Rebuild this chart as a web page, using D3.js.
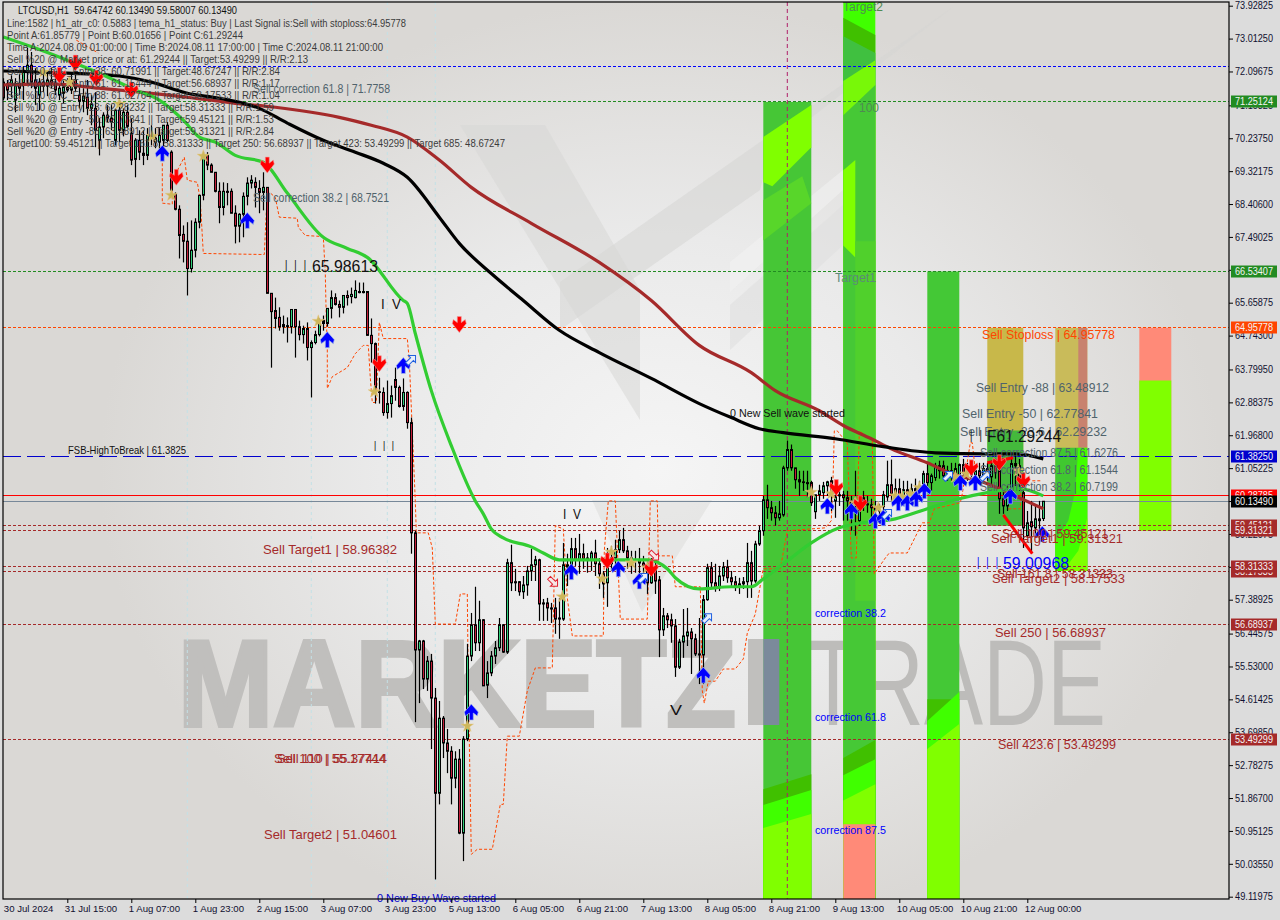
<!DOCTYPE html>
<html><head><meta charset="utf-8">
<script src="https://cdn.jsdelivr.net/npm/d3@7/dist/d3.min.js"></script>
<style>html,body{margin:0;padding:0;background:#dcdcdc;overflow:hidden}svg{display:block}text{font-family:"Liberation Sans",Arial,sans-serif;white-space:pre}</style>
</head><body><svg id="c" width="1280" height="920"></svg>
<script>
// ---------- candle data (H1 bars) ----------
const opens=[71.80,71.75,71.72,71.30,71.75,71.77,72.08,72.27,71.86,71.44,
71.80,71.69,71.86,71.75,71.44,71.49,71.66,71.58,71.86,71.44,
71.27,71.38,71.07,71.07,70.18,70.55,70.88,70.80,70.18,71.02,
70.46,70.96,70.38,69.65,70.18,69.82,69.76,70.29,70.24,70.13,
70.18,70.60,69.85,68.68,68.26,67.56,67.37,66.61,67.12,67.90,
68.65,69.76,69.49,69.29,68.76,68.31,68.76,68.76,68.15,67.79,
68.12,68.62,68.99,69.01,68.84,68.73,68.87,65.92,65.44,65.25,
65.05,64.99,64.99,65.47,64.99,64.77,64.94,64.41,64.55,64.77,
65.16,65.08,65.50,65.80,65.61,65.53,65.86,65.83,65.80,65.97,
65.97,65.97,64.75,64.52,63.18,63.16,62.60,62.85,63.52,63.30,
62.77,63.16,62.32,59.25,55.99,56.24,55.18,55.68,54.65,52.00,
54.09,53.40,53.17,52.42,52.95,50.89,53.51,55.82,56.69,56.19,
56.83,55.01,55.35,55.82,56.05,56.69,55.93,58.42,57.89,57.89,
57.61,57.80,58.19,58.36,58.50,57.30,57.30,57.16,57.16,56.88,
56.85,58.36,58.33,58.81,58.50,58.67,58.55,58.50,58.69,58.39,
58.11,57.86,58.39,58.55,58.78,59.06,58.75,58.55,58.50,58.50,
58.41,58.33,57.86,58.25,57.94,56.55,56.94,56.83,56.66,55.51,
56.21,56.38,56.49,56.30,55.88,55.85,57.39,58.28,57.86,57.72,
58.05,58.30,58.00,57.89,57.75,57.83,57.89,58.42,57.91,58.94,
59.31,60.17,59.95,59.81,59.67,59.75,61.06,61.57,61.06,60.73,
60.67,60.65,60.65,59.84,60.31,60.37,60.56,60.70,60.14,60.31,
60.31,60.23,60.14,60.06,59.59,60.23,60.06,60.03,59.95,59.89,
59.98,60.25,60.59,60.34,60.48,60.28,60.45,60.34,60.48,60.42,
60.62,60.90,60.65,60.79,61.12,61.12,60.84,60.98,60.92,60.84,
61.15,60.92,61.09,60.87,60.98,60.84,61.04,60.81,61.12,60.98,
60.20,60.00,60.39,61.18,61.12,60.37,59.17,59.56,59.39,59.64,59.65];
const highs=[71.91,71.86,71.99,71.91,72.02,72.25,72.75,72.64,72.19,71.91,
72.13,72.08,72.19,71.97,71.80,71.86,71.91,72.08,72.27,71.72,
71.63,71.86,71.44,71.52,70.80,70.96,71.16,71.16,71.07,71.30,
71.07,71.16,70.80,70.24,70.46,70.46,70.52,70.60,70.52,70.52,
70.60,70.69,69.90,68.73,68.37,67.81,67.90,67.95,68.01,68.65,
69.85,69.85,69.54,69.29,69.01,69.01,68.99,68.84,68.37,68.15,
68.73,69.15,69.21,69.15,69.07,69.29,68.87,65.92,65.80,65.53,
65.30,65.25,65.47,65.47,65.16,65.02,65.11,64.61,64.88,65.22,
65.30,65.50,66.00,65.92,65.72,65.86,66.00,66.08,66.28,66.22,
66.22,65.97,65.22,64.55,63.57,63.30,63.49,63.35,63.85,63.35,
63.55,63.19,62.46,59.31,56.27,56.27,55.82,55.88,54.93,54.57,
54.15,53.79,53.31,53.17,53.23,53.59,56.16,57.02,57.75,57.36,
56.85,55.68,55.96,56.24,56.88,56.71,58.53,58.92,58.25,57.91,
58.05,58.33,58.81,58.61,58.53,57.41,57.44,57.30,57.44,57.44,
58.97,58.67,59.11,59.11,59.22,58.95,58.69,58.75,59.06,58.55,
58.19,58.83,58.89,59.06,59.31,59.39,58.89,58.75,58.75,58.83,
58.61,58.47,58.55,58.53,58.05,57.16,57.02,57.00,56.85,56.30,
57.13,57.16,56.60,56.44,56.88,57.52,58.39,58.44,58.39,58.33,
58.44,58.50,58.19,58.05,58.00,58.02,58.97,58.75,59.03,59.45,
60.28,60.59,60.14,60.00,60.14,61.12,61.82,61.71,61.06,60.98,
60.98,60.98,60.70,60.31,60.59,60.67,60.70,60.81,60.56,60.42,
60.42,60.42,60.28,60.98,60.28,60.42,60.28,60.20,60.14,60.06,
60.42,61.26,61.29,60.76,60.76,60.70,60.70,60.62,60.76,60.70,
60.98,61.18,60.90,61.20,61.26,61.26,61.12,61.20,61.20,61.18,
61.31,61.20,61.26,61.12,61.20,61.20,61.20,61.26,61.31,61.12,
60.42,60.56,61.31,61.40,61.31,60.70,59.86,60.14,60.00,60.14,60.13];
const lows=[71.30,71.30,71.38,70.96,71.44,71.30,71.72,71.63,71.16,71.02,
71.52,71.41,71.63,71.44,71.30,71.21,71.52,71.47,71.52,71.07,
70.96,70.88,70.60,69.99,69.76,70.24,70.69,70.46,70.04,70.13,
70.29,70.52,69.49,69.15,69.63,69.49,69.63,70.04,69.96,69.85,
69.68,70.13,68.79,68.23,66.89,66.78,65.86,66.50,66.92,67.73,
68.51,69.35,69.29,68.73,67.87,68.09,68.37,68.15,67.31,67.34,
67.48,68.37,68.84,68.31,68.15,68.23,65.92,63.85,64.94,64.88,
64.80,64.55,64.80,64.13,64.61,64.52,64.05,63.02,64.50,64.72,
64.88,64.99,65.22,65.58,65.25,65.36,65.58,65.64,65.78,65.92,
65.92,64.75,63.99,62.85,62.85,62.51,62.43,62.46,62.93,62.74,
62.65,62.15,58.67,53.98,54.51,54.90,54.85,53.23,49.60,51.69,
52.98,52.56,51.69,52.14,50.86,50.11,53.45,55.68,55.96,55.96,
54.99,54.65,55.26,55.60,55.96,55.91,55.88,57.63,57.63,57.50,
57.41,57.50,57.91,57.91,56.80,56.80,56.80,56.74,56.44,56.30,
56.80,57.77,58.19,58.33,58.11,58.25,58.14,58.19,58.05,57.69,
57.44,57.19,58.19,58.33,58.69,58.69,58.25,58.11,58.14,58.11,
58.05,57.55,57.83,57.55,55.79,56.38,56.60,56.19,55.24,55.46,
55.77,56.10,55.32,55.82,55.04,55.04,57.36,57.72,57.61,57.63,
57.91,57.86,57.77,57.63,57.55,57.69,57.44,57.44,57.86,58.89,
59.17,59.64,59.59,59.45,59.59,59.70,60.98,60.98,60.48,60.28,
60.42,60.23,60.00,59.64,60.14,60.20,60.28,59.86,59.67,60.00,
59.59,59.59,59.31,59.17,59.45,59.86,59.81,59.64,59.45,59.50,
59.81,60.14,60.14,60.20,60.28,60.14,60.20,60.20,60.28,60.23,
60.42,60.56,60.42,60.70,60.76,60.76,60.70,60.70,60.65,60.65,
60.76,60.70,60.81,60.70,60.76,60.65,60.70,60.59,60.76,59.78,
59.78,59.86,60.14,60.56,60.42,58.83,59.11,58.69,59.11,59.03,59.58];
const closes=[71.36,71.58,71.86,71.75,71.63,72.13,72.27,71.80,71.63,71.80,
71.69,71.86,71.75,71.58,71.63,71.66,71.58,71.86,71.63,71.27,
71.41,71.07,71.19,70.46,70.55,70.88,70.80,70.69,71.02,70.46,
70.96,70.57,69.63,70.18,69.85,69.76,70.32,70.24,70.13,70.32,
70.60,70.18,68.79,68.26,67.53,67.37,66.61,67.12,67.90,68.65,
69.71,69.49,69.29,68.76,68.31,68.76,68.73,68.15,67.79,68.12,
68.62,68.99,69.07,68.87,68.73,68.87,65.92,65.41,65.22,64.99,
64.99,65.02,65.47,64.99,64.77,64.94,64.41,64.55,64.77,65.08,
65.08,65.50,65.80,65.61,65.53,65.86,65.80,65.89,66.00,65.94,
65.94,64.75,64.52,63.30,63.16,62.60,62.85,63.07,63.30,62.77,
63.16,62.32,59.25,55.99,56.24,55.18,55.68,54.65,52.00,54.09,
53.40,53.17,52.42,52.95,50.89,53.51,55.82,56.69,56.19,56.83,
54.99,55.35,55.82,56.05,56.69,55.93,58.42,57.86,57.86,57.61,
57.80,58.19,58.36,58.50,57.27,57.27,57.16,57.13,56.85,56.85,
58.36,58.30,58.81,58.50,58.67,58.53,58.50,58.69,58.39,58.11,
57.83,58.39,58.55,58.78,59.06,58.75,58.55,58.50,58.47,58.41,
58.33,57.86,58.25,57.91,56.55,56.94,56.83,56.66,55.51,56.21,
56.38,56.49,56.30,55.88,55.85,57.39,58.28,57.86,57.72,58.05,
58.30,58.00,57.89,57.77,57.83,57.89,58.42,57.91,58.94,59.31,
60.17,59.95,59.81,59.67,59.78,61.06,61.57,61.06,60.73,60.67,
60.65,60.62,60.09,60.31,60.42,60.56,60.67,60.34,60.25,60.28,
60.23,60.14,60.06,60.00,59.89,60.06,60.03,59.95,59.89,59.86,
60.31,60.59,60.34,60.48,60.28,60.45,60.34,60.48,60.42,60.56,
60.90,60.65,60.84,61.12,60.98,60.84,60.98,60.92,61.04,61.15,
60.92,61.09,60.87,60.98,60.84,61.04,60.81,61.12,60.92,60.20,
60.00,60.42,61.18,61.12,60.70,59.39,59.53,59.42,59.64,59.59,60.13];
// ---------- moving averages: [bar, price] ----------
const emaBlack=[[0,72.11],[16,72.05],[29,71.97],[37,71.80],[46,71.49],[54,71.35],[64,71.07],[71,70.66],[80,70.18],[88,69.85],[95,69.54],[101,69.15],[109,68.04],[114,67.31],[122,66.47],[130,65.72],[139,64.89],[149,64.27],[162,63.55],[174,62.85],[182,62.46],[189,62.15],[195,62.04],[208,61.87],[220,61.65],[233,61.48],[246,61.45],[253,61.45],[260,61.31]];
const emaBrown=[[0,71.72],[12,71.75],[24,71.63],[46,71.38],[58,71.21],[68,71.10],[84,70.82],[92,70.60],[101,70.27],[109,69.63],[117,68.87],[132,67.87],[149,66.78],[162,65.72],[174,64.47],[187,63.71],[193,63.21],[204,62.65],[210,62.24],[217,61.87],[222,61.59],[231,61.20],[237,60.90],[246,60.62],[253,60.28],[260,59.92]];
const emaGreen=[[0,73.06],[8,72.75],[16,72.41],[24,72.05],[33,71.58],[39,71.30],[45,70.74],[49,70.27],[53,70.13],[58,69.76],[65,69.57],[71,68.71],[80,67.48],[86,67.17],[91,66.92],[100,65.72],[101,65.64],[103,64.80],[107,63.21],[112,61.68],[118,60.14],[120,59.78],[122,59.36],[125,59.11],[132,58.86],[135,58.69],[139,58.50],[149,58.50],[161,58.50],[166,58.25],[168,58.00],[174,57.69],[182,57.75],[187,57.75],[190,57.97],[196,58.47],[202,58.97],[209,59.39],[213,59.50],[223,59.64],[231,59.92],[239,60.20],[246,60.37],[254,60.48],[260,60.28]];
const trailStop=[[39.75,69.82],[39.75,68.43],[42.25,68.40],[42.25,69.07],[45.25,69.71],[46,69.07],[48.5,69.01],[49.25,68.51],[50,67.03],[65.25,67.00],[65.5,67.59],[66,68.79],[68,68.59],[69,68.04],[73.5,68.01],[73.75,67.76],[75.5,67.53],[80,67.50],[80.5,66.47],[80.75,65.16],[81,64.52],[81,63.27],[82.25,63.60],[86,63.85],[88,64.24],[90,64.47],[91.25,64.47],[91.75,63.57],[92.25,62.88],[93.25,62.88],[94,65.11],[95,64.66],[101,64.66],[101.5,64.05],[103,60.14],[103.25,59.25],[106.25,59.25],[107.25,58.83],[108,56.71],[113,56.71],[114.25,57.55],[116,57.55],[116.25,54.93],[116.5,53.45],[117,50.30],[118.5,50.44],[122.25,50.44],[124.25,51.69],[125,51.69],[126,53.59],[129,53.59],[131,54.85],[133,55.49],[137.25,55.49],[138,59.45],[140,59.36],[141,57.44],[142.25,56.38],[150,56.38],[150.25,58.75],[151.25,60.14],[153,60.14],[154.25,56.85],[161,56.85],[161.75,60.14],[163.5,60.14],[163.75,58.61],[167.25,58.61],[168,57.75],[174.25,57.75],[174.75,54.85],[175.25,54.51],[176.25,55.12],[178,55.12],[180,55.46],[183,55.46],[185,55.74],[186,56.46],[188,56.99],[189.75,58.11],[190,58.25],[194.25,58.25],[194.75,58.55],[196,59.31],[205.5,59.39],[207,59.59],[207.5,60.98],[207.75,62.09],[208.5,62.09],[211,61.74],[212,58.55],[213.25,58.55],[214,62.09],[217.25,61.82],[217.75,58.11],[220.5,58.55],[221.5,58.69],[226,58.69],[229.75,59.53],[231.5,59.53],[232.75,59.92],[239.25,60.09],[239.75,60.34],[241.75,61.76],[242.25,61.76],[243,60.98]];
const trailStopStubs=[[[18.25,72.97],[23.75,72.61]],[[251.25,59.92],[254.25,59.92],[254.5,60.98]],[[257.25,60.70],[259.5,60.70]]];
const redWaves=[[[250,59.75],[257.25,58.67]],[[246,61.20],[252.5,61.34]]];
const buySignals=[[39.75,69.82],[61,67.95],[81,64.63],[100,63.91],[117,54.26],[142,58.17],[153.75,58.25],[159,57.91],[175,55.29],[206,60.00],[212,59.86],[218,59.59],[220,59.67],[223.75,60.09],[226,60.09],[228.25,60.20],[230.25,60.42],[239.25,60.65],[243,60.65],[251.75,60.28],[259.75,59.22]];
const sellSignals=[[14,71.99],[18,72.33],[23.25,71.91],[32,71.58],[43.25,69.15],[66,69.49],[114,65.05],[94,63.96],[151,58.47],[162,58.25],[208.25,60.51],[214.25,60.06],[242,61.06],[249,61.20],[255,60.70]];
const stars=[[10,72.08],[16.5,71.80],[29,71.19],[37.25,70.29],[42,68.65],[50,69.74],[78.75,65.14],[92.75,63.18],[116,53.87],[139.75,57.47],[149.75,57.97],[152,58.72],[157,58.41],[161,58.28],[202,60.38],[207,60.34],[213,60.09],[218.75,59.95],[223,60.28],[224.75,60.25],[226.75,60.34],[229,60.51],[238,60.81],[240.75,60.89],[253.75,60.98]];
const hollowUp=[[102,64.07],[160,58.00],[176,56.88],[221,59.78],[236.25,60.84],[245.5,60.84]];
const hollowDown=[[137.5,57.88],[162.75,58.61]];
// ---------- levels ----------
const levelPrices=[72.23,71.25124,66.53407,64.95778,61.3825,60.28785,60.1349,59.45121,59.31321,58.31333,58.17533,56.68937,53.49299];
const levelKinds=["blue","green","green","orange","fsb","red","slate","brown","brown","brown","brown","brown","brown"];
const badgePrices=[71.25124,66.53407,64.95778,61.3825,60.28785,59.45121,59.31321,58.17533,58.31333,56.68937,53.49299,60.1349];
const badgeLabels=["71.25124","66.53407","64.95778","61.38250","60.28785","59.45121","59.31321","58.17533","58.31333","56.68937","53.49299","60.13490"];
const badgeColors=["#228b22","#228b22","#ff4500","#0000cd","#ff0000","#a52a2a","#a52a2a","#a52a2a","#a52a2a","#a52a2a","#a52a2a","#000000"];
const yTicks=[73.92825,73.0125,72.09675,71.15325,70.2375,69.32175,68.406,67.49025,66.5745,65.65875,64.743,63.7995,62.88375,61.968,61.05225,60.1365,59.22075,58.305,57.38925,56.44575,55.53,54.61425,53.6985,52.78275,51.867,50.95125,50.0355,49.11975];
const xTickBars=[0,16,32,48,64,80,96,112,128,144,160,176,192,208,224,240,256];
const xTickLabels=["30 Jul 2024","31 Jul 15:00","1 Aug 07:00","1 Aug 23:00","2 Aug 15:00","3 Aug 07:00","3 Aug 23:00","5 Aug 13:00","6 Aug 05:00","6 Aug 21:00","7 Aug 13:00","8 Aug 05:00","8 Aug 21:00","9 Aug 13:00","10 Aug 05:00","10 Aug 21:00","12 Aug 00:00"];
const dayMarkers=[46,77,96,108];
const signalMarker=[196];
// ---------- zones ----------
const zones=[
 {i0:190,i1:202,top:71.25,bottom:49.0,bands:[["#46c636",71.25,71.25],["#40c000",52.11,52.53],["#40ff00",51.67,52.09],["#80ff00",51.03,51.42]]},
 {i0:210,i1:218,top:74.03,bottom:49.0,bands:[["#40ff00",74.03,74.03],["#40c000",73.59,73.11],["#40c040",73.08,72.61],["#78f808",71.83,72.41],["#46c836",70.88,71.72],["#40c000",52.98,53.48],["#40ff00",52.50,52.95],["#80ff00",51.80,52.25],["#ff8a78",51.14,51.14]]},
 {i0:231,i1:239,top:66.53,bottom:49.0,bands:[["#44c836",66.53,66.53],["#40c000",54.62,54.62],["#40ff00",54.01,54.82],["#80ff00",53.23,53.93]]},
 {i0:246,i1:255,top:64.96,bottom:59.45,bands:[["#c8b84a",64.96,64.96],["#44b93c",62.10,62.10]]},
 {i0:263,i1:271,top:64.96,bottom:58.19,bands:[["#c9bb5a",64.96,64.96],["#40c830",61.62,61.62]]},
 {i0:284,i1:292,top:64.96,bottom:59.31,bands:[["#ff8a78",64.96,64.96],["#80ff00",63.49,63.49]]}
];
const zonePatches=[
 ["#80ff00",[[190,70.27],[202,71.16],[202,69.99],[192.25,68.90],[190,69.01]]],
 ["#58d62a",[[190,68.51],[199.75,69.18],[202,68.43],[190,67.39]]],
 ["#80ff00",[[210,69.35],[213,69.63],[213,66.92],[210,67.25]]],
 ["#50d02c",[[213,67.37],[218,67.37],[218,57.36],[213,57.36]]],
 ["#c8826e",[[268.75,64.96],[271,64.96],[271,61.62],[268.75,61.62]]],
 ["#40ff00",[[271,61.62],[271,58.19],[263,58.19],[263,59.03],[266.25,59.59],[268,60.42],[268.75,61.62]]],
 ["#80ff00",[[271,59.67],[271,58.19],[265,58.19],[268.75,58.75]]]
];
// ---------- texts ----------
const headerTexts=["LTCUSD,H1  59.64742 60.13490 59.58007 60.13490",
"Line:1582 | h1_atr_c0: 0.5883 | tema_h1_status: Buy | Last Signal is:Sell with stoploss:64.95778",
"Point A:61.85779 | Point B:60.01656 | Point C:61.29244",
"Time A:2024.08.09 01:00:00 | Time B:2024.08.11 17:00:00 | Time C:2024.08.11 21:00:00",
"Sell %20 @ Market price or at: 61.29244 || Target:53.49299 || R/R:2.13",
"Sell %10 @ C_Entry38: 60.71991 || Target:48.67247 || R/R:2.84",
"Sell %10 @ C_Entry61: 61.15444 || Target:56.68937 || R/R:1.17",
"Sell %10 @ C_Entry88: 61.62764 || Target:58.17533 || R/R:1.04",
"Sell %10 @ Entry -23: 62.28232 || Target:58.31333 || R/R:1.59",
"Sell %20 @ Entry -50: 62.77841 || Target:59.45121 || R/R:1.53",
"Sell %20 @ Entry -88: 63.48912 || Target:59.31321 || R/R:2.84",
"Target100: 59.45121 || Target 161.8: 58.31333 || Target 250: 56.68937 || Target 423: 53.49299 || Target 685: 48.67247"];
const annotationTexts=["Sell correction 61.8 | 71.7758","Sell correction 38.2 | 68.7521","I   I   I","65.98613","I  V","I   I   I","I  V","V","FSB-HighToBreak | 61.3825","Sell Target1 | 58.96382","Sell 100 | 55.17744","Sell 110 | 55.37414","Sell Target2 | 51.04601","0 New Buy Wave started","0 New Sell wave started","Target2","100","Target1","correction 38.2","correction 61.8","correction 87.5","Sell Stoploss | 64.95778","Sell Entry -88 | 63.48912","Sell Entry -50 | 62.77841","Sell Entry -23.6 | 62.29232","I   I","F61.29244","Sell correction 87.5 | 61.6276","Sell correction 61.8 | 61.1544","Sell correction 38.2 | 60.7199","Sell 100 | 59.45121","Sell Target1 | 59.31321","I   I   I","59.00968","Sell 161.8 | 58.31333","Sell Target2 | 58.17533","Sell 250 | 56.68937","Sell 423.6 | 53.49299"];

// ---------- drawing ----------
const svg=d3.select("#c");
const frame={l:3,t:2,r:1229,b:899};
const x=d3.scaleLinear().domain([0,260]).range([3.3,1043.3]);
const y=d3.scaleLinear().domain([73.92825,49.11975]).range([5.7,896.7]);
const yPx=p=>Math.floor(y(p))+.5;
const defs=svg.append("defs");
const rg=defs.append("radialGradient").attr("id","bg").attr("gradientUnits","userSpaceOnUse").attr("cx",0).attr("cy",0).attr("r",1)
 .attr("gradientTransform","translate(660,470) scale(560,470)");
rg.append("stop").attr("offset",0).attr("stop-color","#f5f5f5");
rg.append("stop").attr("offset",.5).attr("stop-color","#eaeaea");
rg.append("stop").attr("offset",1).attr("stop-color","#dad8d5");
defs.append("clipPath").attr("id","plot").append("rect").attr("x",frame.l).attr("y",frame.t).attr("width",frame.r-frame.l).attr("height",frame.b-frame.t);

svg.append("rect").attr("width",1280).attr("height",920).attr("fill","#dcdcdc");
const plot=svg.append("g").attr("clip-path","url(#plot)");
plot.append("rect").attr("x",frame.l).attr("y",frame.t).attr("width",frame.r-frame.l).attr("height",frame.b-frame.t).attr("fill","url(#bg)");
// logo shapes in the background
const logo=[["#d5d5d3",[[953,7],[560,282],[560,330],[760,190],[770,150]]],
 ["#d7d7d5",[[460,125],[545,125],[640,290],[640,420]]],
 ["#dcdcdb",[[592,500],[712,500],[642,612]]],
 ["#f2f2f2",[[730,262],[843,170],[843,190],[730,292]]],
 ["#dedede",[[730,305],[843,205],[843,245],[730,350]]]];
plot.selectAll("polygon.logo").data(logo).join("polygon").attr("class","logo").attr("fill",d=>d[0]).attr("fill-opacity",.55).attr("points",d=>d[1].join(" "));
// watermark
plot.append("text").attr("x",178).attr("y",726).attr("font-size",122).attr("font-weight","bold").attr("fill","#c0bfbd").attr("stroke","#c0bfbd").attr("stroke-width",4).attr("textLength",558).attr("lengthAdjust","spacingAndGlyphs").text("MARKETZ");
plot.append("text").attr("x",806).attr("y",725).attr("font-size",122).attr("fill","#bdbcba").attr("textLength",300).attr("lengthAdjust","spacingAndGlyphs").text("TRADE");

// zones
const zg=plot.append("g");
zones.forEach(z=>{
 z.bands.forEach(b=>{
  zg.append("polygon").attr("fill",b[0]).attr("points",[[x(z.i0),y(b[1])],[x(z.i1),y(b[2])],[x(z.i1),y(z.bottom)],[x(z.i0),y(z.bottom)]].join(" "));
 });
});
zonePatches.forEach(p=>zg.append("polygon").attr("fill",p[0]).attr("points",p[1].map(d=>[x(d[0]),y(d[1])]).join(" ")));
// the watermark's I sits partly over a zone
plot.append("rect").attr("x",748).attr("y",639).attr("width",15.3).attr("height",86).attr("fill","#c0bfbd");
plot.append("rect").attr("x",763.3).attr("y",639).attr("width",16).attr("height",86).attr("fill","#7b8a9b");

// vertical markers
plot.selectAll("line.day").data(dayMarkers).join("line").attr("class","day").attr("x1",d=>x(d)).attr("x2",d=>x(d)).attr("y1",frame.t).attr("y2",frame.b).attr("stroke","#c4e2e6").attr("stroke-dasharray","3,3");
plot.selectAll("line.sig").data(signalMarker).join("line").attr("class","sig").attr("x1",d=>x(d)).attr("x2",d=>x(d)).attr("y1",frame.t).attr("y2",frame.b).attr("stroke","#b0206a").attr("stroke-dasharray","4,3");

// horizontal levels
const kindStyle={blue:["#0000ff","3,2"],green:["#228b22","3,2"],orange:["#ff4500","3,2"],fsb:["#0000cd","18,6"],red:["#ff0000",null],slate:["#778899",null],brown:["#a52a2a","3,2"]};
plot.selectAll("line.lvl").data(levelPrices).join("line").attr("class","lvl").attr("x1",frame.l).attr("x2",frame.r)
 .attr("y1",d=>yPx(d)).attr("y2",d=>yPx(d))
 .attr("stroke",(d,i)=>kindStyle[levelKinds[i]][0]).attr("stroke-dasharray",(d,i)=>kindStyle[levelKinds[i]][1]);

// stop trail
const ln=d3.line().x(d=>x(d[0])).y(d=>y(d[1]));
[trailStop,...trailStopStubs].forEach(s=>plot.append("path").attr("d",ln(s)).attr("fill","none").attr("stroke","#ff4500").attr("stroke-dasharray","3,2"));

// candles
const bars=d3.range(opens.length);
const cg=plot.append("g");
cg.selectAll("line").data(bars).join("line").attr("x1",i=>Math.round(x(i))+.5).attr("x2",i=>Math.round(x(i))+.5).attr("y1",i=>y(highs[i])).attr("y2",i=>y(lows[i])).attr("stroke","#000").attr("stroke-width",1.2);
cg.selectAll("rect").data(bars).join("rect").attr("x",i=>Math.round(x(i))-.5).attr("width",2)
 .attr("y",i=>y(Math.max(opens[i],closes[i]))).attr("height",i=>Math.abs(y(opens[i])-y(closes[i])))
 .attr("fill",i=>closes[i]>=opens[i]?"#2fcf7a":"#c41e3a").attr("stroke","#000").attr("stroke-width",1);

// moving averages
const smooth=d3.line().x(d=>x(d[0])).y(d=>y(d[1])).curve(d3.curveMonotoneX);
[[emaBrown,"#a52a2a"],[emaBlack,"#000000"],[emaGreen,"#32cd32"]].forEach(s=>plot.append("path").attr("d",smooth(s[0])).attr("fill","none").attr("stroke",s[1]).attr("stroke-width",3.2).attr("stroke-linejoin","round"));
redWaves.forEach(s=>plot.append("path").attr("d",ln(s)).attr("fill","none").attr("stroke","#ff0000").attr("stroke-width",3));

// signals
const downArrow="M-2,-8L2,-8L2,-2L6,-5L7,-1L0,8L-7,-1L-6,-5L-2,-2Z";
const upArrow="M-2,8L2,8L2,1L6,4L7,0L0,-8L-7,0L-6,4L-2,1Z";
const hollow="M0,-6L5,-1L2,-1L2,6L-2,6L-2,-1L-5,-1Z";
plot.selectAll("path.star").data(stars).join("path").attr("class","star").attr("transform",d=>`translate(${x(d[0])},${y(d[1])})`).attr("d",d3.symbol(d3.symbolStar,48)).attr("fill","#cdb75a").attr("stroke","#e8c98a").attr("stroke-width",.5);
plot.selectAll("path.buy").data(buySignals).join("path").attr("class","buy").attr("transform",d=>`translate(${x(d[0])},${y(d[1])})`).attr("d",upArrow).attr("fill","#0000ff").attr("stroke","#a8bfe8").attr("stroke-width",.7);
plot.selectAll("path.sell").data(sellSignals).join("path").attr("class","sell").attr("transform",d=>`translate(${x(d[0])},${y(d[1])})`).attr("d",downArrow).attr("fill","#ff0000").attr("stroke","#f0a0a0").attr("stroke-width",.6);
plot.selectAll("path.hu").data(hollowUp).join("path").attr("class","hu").attr("transform",d=>`translate(${x(d[0])},${y(d[1])}) rotate(45)`).attr("d",hollow).attr("fill","#e8eef8").attr("stroke","#2060e0");
plot.selectAll("path.hd").data(hollowDown).join("path").attr("class","hd").attr("transform",d=>`translate(${x(d[0])},${y(d[1])}) rotate(135)`).attr("d",hollow).attr("fill","#f6e6e6").attr("stroke","#e02030");

// annotations
const brown="#a52a2a",slate="#50636c",blue="#0000ff",blk="#111",org="#ff4500",grn="#4f8a52";
const annotationLayout=[[253,93,137,12,slate],[253,202,136,12,slate],[285,272,21,16,blk],[312,272,66,16,blk],[381,309,20,14,blk],[374,451,20,14,blk],[563,519,18,14,blk],[670,715,12,14,blk],[68,454,118,11,blk],[263,554,134,13,brown],[274,763,112,13,brown],[277,763,110,13,brown],[264,839,133,13,brown],[377,902,119,11.5,"#0000cd"],[730,417,115,11.5,blk],[843,11,40,12,grn],[859,112,20,12,grn],[835,282,41,12,"#5b8a78"],[815,617,71,11.5,blue],[815,721,71,11.5,blue],[815,834,71,11.5,blue],[982,339,133,13,org],[976,392,133,13,slate],[962,418,136,13,slate],[960,436,147,13,slate],[970,442,12,16,blk],[987,442,74,16,blk],[980,457,138,12,slate],[980,474,138,12,slate],[980,491,138,12,slate],[1002,538,106,12.5,brown],[991,543,132,13,brown],[977,569,21,16,blue],[1003,569,66,16,blue],[997,578,116,12.5,brown],[992,583,133,13,brown],[995,637,111,12.5,brown],[998,749,118,12.5,brown]];
const tg=svg.append("g");
annotationTexts.forEach((t,i)=>{const a=annotationLayout[i];
 tg.append("text").attr("x",a[0]).attr("y",a[1]).attr("font-size",a[3]).attr("fill",a[4]).attr("textLength",a[2]).attr("lengthAdjust","spacingAndGlyphs").text(t);});
const headerEnds=[237,406,243,383,308,280,280,280,274,274,274,505];
headerTexts.forEach((t,i)=>{
 tg.append("text").attr("x",i==0?18:7).attr("y",i==0?14:27+(i-1)*12).attr("font-size",10).attr("fill",i==0?"#111":"#3c3c3c")
  .attr("textLength",headerEnds[i]-(i==0?18:7)).attr("lengthAdjust","spacingAndGlyphs").text(t);});

// frame and axes
svg.append("rect").attr("x",frame.l).attr("y",frame.t).attr("width",frame.r-frame.l).attr("height",frame.b-frame.t).attr("fill","none").attr("stroke","#000").attr("stroke-width",1.2);
const ya=svg.append("g").attr("transform",`translate(${frame.r},0)`).call(d3.axisRight(y).tickValues(yTicks).tickFormat(d3.format(".5f")).tickSize(4).tickPadding(2));
ya.select(".domain").remove();
ya.selectAll("text").attr("font-size",10).attr("fill","#101030").attr("textLength",38).attr("lengthAdjust","spacingAndGlyphs").attr("font-family",null);
const xa=svg.append("g").attr("transform",`translate(0,${frame.b})`).call(d3.axisBottom(x).tickValues(xTickBars).tickFormat((d,i)=>xTickLabels[i]).tickSize(4).tickPadding(2));
xa.select(".domain").remove();
xa.selectAll("text").attr("font-size",9.6).attr("fill","#101030").attr("text-anchor","start").attr("dx",(d,i)=>i==0?0:-3).attr("font-family",null);
xa.select(".tick line").remove();
// price badges
const bg=svg.append("g");
badgePrices.forEach((p,i)=>{
 bg.append("rect").attr("x",1231).attr("y",yPx(p)-6).attr("width",46).attr("height",12).attr("fill",badgeColors[i]);
 bg.append("text").attr("x",1235).attr("y",yPx(p)+3.5).attr("font-size",10).attr("fill","#f4f4f4").attr("textLength",38).attr("lengthAdjust","spacingAndGlyphs").text(badgeLabels[i]);
});
</script></body></html>
